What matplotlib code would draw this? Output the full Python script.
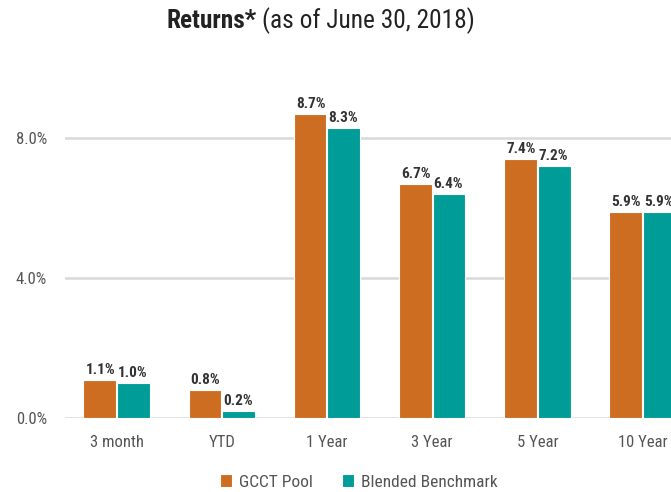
import matplotlib
matplotlib.use("Agg")
import numpy as np
from matplotlib import pyplot as plt
from matplotlib import font_manager

# pick a narrow sans if one is installed
names = set(f.name for f in font_manager.fontManager.ttflist)
family = "Liberation Sans"
for cand in ["Roboto Condensed", "Liberation Sans Narrow", "Open Sans Condensed", "Noto Sans Condensed"]:
    if cand in names:
        family = cand
        break

plt.rcParams['font.family'] = [family, 'DejaVu Sans']

categories = ["3 month", "YTD", "1 Year", "3 Year", "5 Year", "10 Year"]
gcct_pool = [1.1, 0.8, 8.7, 6.7, 7.4, 5.9]
benchmark = [1.0, 0.2, 8.3, 6.4, 7.2, 5.9]

orange = "#CD6D22"
teal = "#009C97"
text_col = "#333333"

fig = plt.figure(figsize=(6.71, 4.92), dpi=100)
ax = fig.add_axes([65 / 671, 74 / 492, 606 / 671, 350 / 492])

x = np.arange(len(categories))
w = 0.31
ax.bar(x - w / 2 - 0.005, gcct_pool, w, color=orange, edgecolor="white", linewidth=0.8, label="GCCT Pool", zorder=3)
ax.bar(x + w / 2 + 0.005, benchmark, w, color=teal, edgecolor="white", linewidth=0.8, label="Blended Benchmark", zorder=3)

for i in range(len(categories)):
    ax.text(x[i] - w / 2, gcct_pool[i] + 0.08, "%.1f%%" % gcct_pool[i], ha="center", va="bottom",
            fontsize=11, color=text_col, fontweight="semibold")
    ax.text(x[i] + w / 2, benchmark[i] + 0.08, "%.1f%%" % benchmark[i], ha="center", va="bottom",
            fontsize=11, color=text_col, fontweight="semibold")

ax.set_xlim(-0.49, 5.27)
ax.set_ylim(0, 10)
ax.set_yticks([0, 4, 8])
ax.set_yticklabels(["0.0%", "4.0%", "8.0%"])
ax.set_xticks(x)
ax.set_xticklabels(categories)
ax.tick_params(axis="both", length=0, labelsize=12, colors="#555555")
ax.tick_params(axis="x", pad=12)
ax.tick_params(axis="y", pad=13)
ax.grid(axis="y", color="#D9D9D9", linewidth=1.8, zorder=0)
for s in ax.spines.values():
    s.set_visible(False)

ax.legend(loc="center", bbox_to_anchor=((359 - 65) / 606, -64 / 350), ncol=2, frameon=False,
          fontsize=12.5, handlelength=0.7, handleheight=0.7, handletextpad=0.4, columnspacing=1.7,
          labelcolor="#555555")

fig.text(257 / 671, 1 - 21 / 492, "Returns*", ha="right", va="center", fontsize=18.3, fontweight="bold", color="#222222")
fig.text(262 / 671, 1 - 21 / 492, "(as of June 30, 2018)", ha="left", va="center", fontsize=18.3, color="#222222")

fig.savefig("out.png", dpi=100)
